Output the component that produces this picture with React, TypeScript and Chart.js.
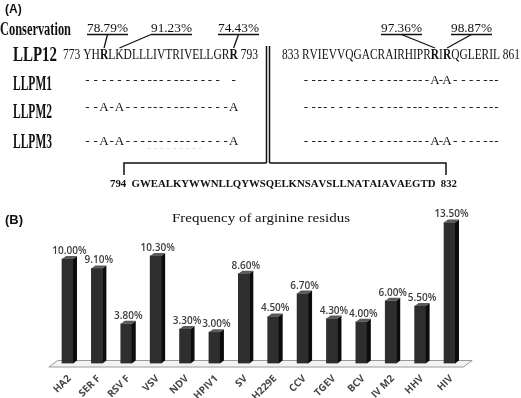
import React, { useEffect, useRef } from "react";
import { Chart, registerables } from "chart.js";

Chart.register(...registerables);

// ---------- Part B data ----------
const CATEGORIES = ["HA2", "SER F", "RSV F", "VSV", "NDV", "HPIV1", "SV", "H229E", "CCV", "TGEV", "BCV", "IV M2", "HHV", "HIV"];
const FREQUENCIES = [10.0, 9.1, 3.8, 10.3, 3.3, 3.0, 8.6, 4.5, 6.7, 4.3, 4.0, 6.0, 5.5, 13.5];
const Y_MAX = 15;
const CHART_TITLE = "Frequency of arginine residus";

// ---------- Part A data ----------
const LEFT_START = 773;
const LEFT_END = 793;
const LEFT_RESIDUES = "YHRLKDLLLIVTRIVELLGRR";
const RIGHT_START = 833;
const RIGHT_END = 861;
const RIGHT_RESIDUES = "RVIEVVQGACRAIRHIPRRIRQGLERIL";
const LINKER_START = 794;
const LINKER_END = 832;
const LINKER_RESIDUES = "GWEALKYWWNLLQYWSQELKNSAVSLLNATAIAVAEGTD";
const WILD_TYPE = "LLP12";
const MUTANTS = ["LLPM1", "LLPM2", "LLPM3"];
const MUTANT_LEFT = ["------------------- -", "--A-A---------------A", "--A-A---------------A"];
const MUTANT_RIGHT = ["------------------A-A-------", "----------------------------", "------------------A-A-------"];
const CONSERVATION = [78.79, 91.23, 74.43, 97.36, 98.87];
const CONSERVATION_SIDE = ["L", "L", "L", "R", "R"];
const CONSERVATION_RESIDUE = [2, 4, 20, 18, 20];

// ---------- layout (drawing only) ----------
const SERIF = '"Liberation Serif", "Times New Roman", serif';
const SANS = '"Liberation Sans", Arial, sans-serif';
const OPEN = '"Open Sans", "Liberation Sans", sans-serif';
const PCT_X = [87, 151, 218, 381, 451];
const PCT_ANCHOR = [0.5, 0.0, 0.5, 0.5, 0.5];

function fitText(ctx: CanvasRenderingContext2D, text: string, x: number, y: number, width: number, font: string, color: string) {
  ctx.save();
  ctx.font = font;
  ctx.fillStyle = color;
  ctx.textAlign = "left";
  ctx.textBaseline = "alphabetic";
  const w = ctx.measureText(text).width;
  ctx.translate(x, y);
  ctx.scale(width / w, 1);
  ctx.fillText(text, 0, 0);
  ctx.restore();
}

function drawSequence(
  ctx: CanvasRenderingContext2D,
  prefix: string,
  residues: string,
  suffix: string,
  x0: number,
  x1: number,
  y: number,
  size: number,
  bold: Set<number>,
  allBold = false
): number[] {
  const normal = `${allBold ? "bold " : ""}${size}px ${SERIF}`;
  const heavy = `bold ${size}px ${SERIF}`;
  const pieces: { t: string; f: string; r: boolean; w: number }[] = [];
  pieces.push({ t: prefix, f: normal, r: false, w: 0 });
  for (let i = 0; i < residues.length; i++) pieces.push({ t: residues[i], f: bold.has(i) ? heavy : normal, r: true, w: 0 });
  pieces.push({ t: suffix, f: normal, r: false, w: 0 });
  let total = 0;
  for (const p of pieces) {
    ctx.font = p.f;
    p.w = ctx.measureText(p.t).width;
    total += p.w;
  }
  const s = (x1 - x0) / total;
  const centers: number[] = [];
  let cx = 0;
  ctx.save();
  ctx.fillStyle = "#111";
  ctx.textAlign = "left";
  ctx.textBaseline = "alphabetic";
  for (const p of pieces) {
    ctx.save();
    ctx.font = p.f;
    ctx.translate(x0 + cx * s, y);
    ctx.scale(s, 1);
    ctx.fillText(p.t, 0, 0);
    ctx.restore();
    if (p.r) centers.push(x0 + (cx + p.w / 2) * s);
    cx += p.w;
  }
  ctx.restore();
  return centers;
}

function line(ctx: CanvasRenderingContext2D, pts: number[][], w: number, color = "#111") {
  ctx.save();
  ctx.strokeStyle = color;
  ctx.lineWidth = w;
  ctx.beginPath();
  ctx.moveTo(pts[0][0], pts[0][1]);
  for (let i = 1; i < pts.length; i++) ctx.lineTo(pts[i][0], pts[i][1]);
  ctx.stroke();
  ctx.restore();
}

function drawPartA(ctx: CanvasRenderingContext2D) {
  // (A)
  ctx.save();
  ctx.font = `bold 12px ${SANS}`;
  ctx.fillStyle = "#111";
  ctx.fillText("(A)", 5, 13);
  ctx.restore();

  fitText(ctx, "Conservation", 0, 35, 71, `bold 18px ${SERIF}`, "#111");

  // sequences
  const leftBold = new Set<number>();
  const rightBold = new Set<number>();
  CONSERVATION_SIDE.forEach((side, i) => {
    const idx = CONSERVATION_RESIDUE[i];
    const seq = side === "L" ? LEFT_RESIDUES : RIGHT_RESIDUES;
    if (seq[idx] === "R") (side === "L" ? leftBold : rightBold).add(idx);
  });
  const leftX = drawSequence(ctx, `${LEFT_START} `, LEFT_RESIDUES, ` ${LEFT_END}`, 63, 258, 58.5, 14, leftBold);
  const rightX = drawSequence(ctx, `${RIGHT_START} `, RIGHT_RESIDUES, ` ${RIGHT_END}`, 282, 520, 58.5, 14, rightBold);

  // conservation labels + pointers
  CONSERVATION.forEach((v, i) => {
    const text = `${v.toFixed(2)}%`;
    const x = PCT_X[i];
    const w = 41;
    fitText(ctx, text, x, 32, w, `12px ${SERIF}`, "#111");
    line(ctx, [[x, 34.5], [x + w, 34.5]], 1.3);
    const rx = (CONSERVATION_SIDE[i] === "L" ? leftX : rightX)[CONSERVATION_RESIDUE[i]];
    line(ctx, [[x + w * PCT_ANCHOR[i], 34.5], [rx, 48]], 1.3);
  });

  // row labels
  fitText(ctx, WILD_TYPE, 13, 60.5, 44, `bold 20px ${SERIF}`, "#111");
  const rowLabelY = [90, 118, 148];
  const rowY = [84, 111, 145];
  MUTANTS.forEach((m, r) => {
    fitText(ctx, m, 13, rowLabelY[r], 39, `bold 20px ${SERIF}`, "#111");
    ctx.save();
    ctx.font = `13px ${SERIF}`;
    ctx.fillStyle = "#111";
    ctx.textAlign = "center";
    ctx.textBaseline = "alphabetic";
    for (let i = 0; i < MUTANT_LEFT[r].length; i++) {
      const c = MUTANT_LEFT[r][i];
      if (c !== " ") ctx.fillText(c, leftX[i], rowY[r]);
    }
    for (let i = 0; i < MUTANT_RIGHT[r].length; i++) {
      const c = MUTANT_RIGHT[r][i];
      if (c !== " ") ctx.fillText(c, rightX[i], rowY[r]);
    }
    ctx.restore();
  });

  // faint ghost dashes
  fitText(ctx, "- - - - - - - - -", 147, 152, 55, `12px ${SERIF}`, "#dcdcdc");

  // double vertical line and bracket
  line(ctx, [[266.5, 46], [266.5, 163]], 1.5);
  line(ctx, [[269.5, 46], [269.5, 163]], 1.5);
  line(ctx, [[124, 175], [124, 163], [266.5, 163]], 1.5);
  line(ctx, [[269.5, 163], [446, 163], [446, 175]], 1.5);

  drawSequence(ctx, `${LINKER_START}  `, LINKER_RESIDUES, `  ${LINKER_END}`, 110, 457, 186.5, 11, new Set(), true);
}

const threeD = {
  id: "threeD",
  beforeDraw(chart: any) {
    const ctx = chart.ctx;
    ctx.save();
    ctx.fillStyle = "#fff";
    ctx.fillRect(0, 0, chart.width, chart.height);
    ctx.restore();
  },
  beforeDatasetsDraw(chart: any) {
    const ctx = chart.ctx;
    const area = chart.chartArea;
    const zero = chart.scales.y.getPixelForValue(0);
    const fy = zero + 3.5;
    const by = zero - 3;
    const l = area.left - 4;
    const r = area.right - 1;
    ctx.save();
    ctx.beginPath();
    ctx.moveTo(l, fy);
    ctx.lineTo(r, fy);
    ctx.lineTo(r + 9, by);
    ctx.lineTo(l + 9, by);
    ctx.closePath();
    ctx.fillStyle = "#f3f3f3";
    ctx.fill();
    ctx.strokeStyle = "#9a9a9a";
    ctx.lineWidth = 1;
    ctx.stroke();
    ctx.restore();
  },
  afterDatasetsDraw(chart: any) {
    const ctx = chart.ctx;
    const meta = chart.getDatasetMeta(0);
    const dx = 4;
    const dy = -3;
    meta.data.forEach((el: any, i: number) => {
      const { x, y, base, width } = el.getProps(["x", "y", "base", "width"], true);
      const left = x - width / 2;
      const right = x + width / 2;
      ctx.save();
      // side face
      ctx.beginPath();
      ctx.moveTo(right, y);
      ctx.lineTo(right + dx, y + dy);
      ctx.lineTo(right + dx, base + dy);
      ctx.lineTo(right, base);
      ctx.closePath();
      ctx.fillStyle = "#0c0c0c";
      ctx.fill();
      // top face
      ctx.beginPath();
      ctx.moveTo(left, y);
      ctx.lineTo(left + dx, y + dy);
      ctx.lineTo(right + dx, y + dy);
      ctx.lineTo(right, y);
      ctx.closePath();
      ctx.fillStyle = "#5a5a5a";
      ctx.fill();
      // value label
      ctx.font = `600 10px ${OPEN}`;
      ctx.fillStyle = "#3d3d3d";
      ctx.textAlign = "center";
      ctx.textBaseline = "alphabetic";
      ctx.fillText(`${FREQUENCIES[i].toFixed(2)}%`, x + 2, y - 5);
      // category label
      ctx.translate(x + 2, base + 13.5);
      ctx.rotate(-Math.PI / 4);
      ctx.font = `bold 10px ${OPEN}`;
      ctx.fillStyle = "#454545";
      ctx.textAlign = "right";
      ctx.textBaseline = "middle";
      ctx.fillText(chart.data.labels[i], 0, 0);
      ctx.restore();
    });
  },
  afterDraw(chart: any) {
    const ctx = chart.ctx;
    drawPartA(ctx);
    ctx.save();
    ctx.font = `bold 13px ${SANS}`;
    ctx.fillStyle = "#111";
    ctx.fillText("(B)", 5, 224);
    ctx.restore();
    fitText(ctx, CHART_TITLE, 172, 222, 178, `13.5px ${SERIF}`, "#111");
  },
};

export default function App() {
  const ref = useRef<HTMLCanvasElement | null>(null);
  useEffect(() => {
    if (!ref.current) return;
    const chart = new Chart(ref.current, {
      type: "bar",
      data: {
        labels: CATEGORIES,
        datasets: [
          {
            data: FREQUENCIES,
            backgroundColor: "#2e2e2e",
            borderWidth: 0,
            barThickness: 11,
          },
        ],
      },
      options: {
        animation: false,
        responsive: false,
        devicePixelRatio: 1,
        layout: { padding: { left: 52.8, right: 56.8, top: 206.8, bottom: 34.5 } },
        scales: {
          x: { display: false, offset: true, grid: { display: false } },
          y: { display: false, min: 0, max: Y_MAX },
        },
        plugins: {
          legend: { display: false },
          tooltip: { enabled: false },
          title: { display: false },
        },
      },
      plugins: [threeD],
    });
    return () => chart.destroy();
  }, []);
  return (
    <div style={{ position: "fixed", left: 0, top: 0, width: 521, height: 398, background: "#fff" }}>
      <canvas ref={ref} width={521} height={398} style={{ display: "block", width: 521, height: 398 }} />
    </div>
  );
}
